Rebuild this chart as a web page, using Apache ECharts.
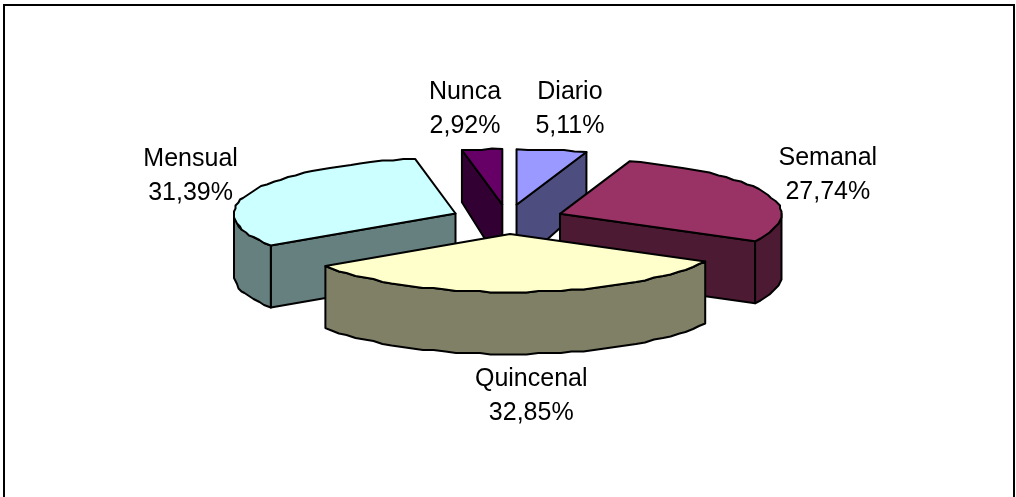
<!DOCTYPE html>
<html>
<head>
<meta charset="utf-8">
<style>html,body{margin:0;padding:0;background:#fff}#chart{width:1016px;height:497px}</style>
<script src="https://cdn.jsdelivr.net/npm/echarts@6/dist/echarts.min.js"></script>
</head>
<body>
<div id="chart"></div>
<script>
// Frecuencia de uso, en porcentaje
const categories = ['Diario', 'Semanal', 'Quincenal', 'Mensual', 'Nunca'];
const shares = [5.11, 27.74, 32.85, 31.39, 2.92];

const topColors = ['#9999FF', '#993366', '#FFFFCC', '#CCFFFF', '#660066'];
const sideColors = ['#4D4D80', '#4D1A33', '#808066', '#668080', '#330033'];
// Desplazamiento de cada etiqueta respecto al punto medio del arco
const labelOffsets = [[18, -41], [62, -18], [11, 104], [-61, -16], [-17, -40]];

// Proyección de la tarta inclinada: la mitad trasera se acorta por la perspectiva
const pie = {
  cx: 507.5, cy: 219.3, rx: 221.5, ryFront: 58, ryBack: 55.5,
  depth: 62, backShrink: 10, explode: 0.255, stepDeg: 3, snap: 1.5
};
const total = shares.reduce((a, b) => a + b, 0);
const rad = d => d * Math.PI / 180;

function project(origin, deg) {
  const c = Math.cos(rad(deg));
  return [origin[0] + pie.rx * Math.sin(rad(deg)), origin[1] - (c > 0 ? pie.ryBack : pie.ryFront) * c];
}
const depthAt = deg => pie.depth - pie.backShrink * Math.max(0, Math.cos(rad(deg)));

// Arco poligonal con vértices cuantizados, como el trazado de la hoja de cálculo
function arcDegrees(a, b) {
  const n = Math.max(1, Math.round((b - a) / pie.stepDeg));
  const out = [];
  for (let i = 0; i <= n; i++) out.push(a + (b - a) * i / n);
  return out;
}
function arcPoints(origin, degs) {
  return degs.map((d, i) => {
    const p = project(origin, d);
    if (i === 0 || i === degs.length - 1) return p;
    return [Math.round(p[0] / pie.snap) * pie.snap, Math.round(p[1] / pie.snap) * pie.snap];
  });
}

function renderSlice(params, api) {
  const i = params.dataIndex;
  const value = api.value(0);
  let before = 0;
  for (let k = 0; k < i; k++) before += shares[k];
  const a = before / total * 360;
  const b = (before + value) / total * 360;
  const mid = (a + b) / 2;
  const apex = [
    pie.cx + pie.explode * pie.rx * Math.sin(rad(mid)),
    pie.cy - pie.explode * pie.ryFront * Math.cos(rad(mid))
  ];
  // Orden de pintado: de atrás hacia delante
  const rank = Math.round(1000 - 900 * Math.cos(rad(mid)));
  const line = { stroke: '#000', lineWidth: 2, lineJoin: 'round' };
  const children = [];
  const wall = (pts, depths) => children.push({
    type: 'polygon', z2: rank,
    shape: { points: pts.concat(pts.map((p, k) => [p[0], p[1] + depths[k]]).reverse()) },
    style: Object.assign({ fill: sideColors[i] }, line)
  });
  // Caras de corte visibles y pared exterior frontal
  if (Math.sin(rad(a)) < -1e-6) wall([apex, project(apex, a)], [pie.depth, depthAt(a)]);
  if (Math.sin(rad(b)) > 1e-6) wall([apex, project(apex, b)], [pie.depth, depthAt(b)]);
  const fa = Math.max(a, 90), fb = Math.min(b, 270);
  if (fb > fa) {
    const degs = arcDegrees(fa, fb);
    wall(arcPoints(apex, degs), degs.map(depthAt));
  }
  // Cara superior
  children.push({
    type: 'polygon', z2: rank + 1,
    shape: { points: [apex].concat(arcPoints(apex, arcDegrees(a, b))) },
    style: Object.assign({ fill: topColors[i] }, line)
  });
  // Etiqueta con categoría y porcentaje
  const anchor = project(apex, mid);
  children.push({
    type: 'text', z2: 5000,
    x: anchor[0] + labelOffsets[i][0],
    y: anchor[1] + labelOffsets[i][1],
    style: {
      text: categories[i] + '\n' + value.toFixed(2).replace('.', ',') + '%',
      fontFamily: '"Liberation Sans", Arial, sans-serif',
      fontSize: 25,
      lineHeight: 34,
      fill: '#000',
      align: 'center',
      verticalAlign: 'middle'
    }
  });
  return { type: 'group', children };
}

const chart = echarts.init(document.getElementById('chart'), null, { renderer: 'canvas' });
chart.setOption({
  animation: false,
  backgroundColor: '#fff',
  graphic: [{
    type: 'rect', silent: true, z: -1,
    shape: { x: 4, y: 5, width: 1010, height: 520 },
    style: { fill: 'none', stroke: '#000', lineWidth: 2 }
  }],
  series: [{
    type: 'custom',
    coordinateSystem: 'none',
    clip: false,
    silent: true,
    renderItem: renderSlice,
    data: shares.map((v, i) => ({ name: categories[i], value: [v] }))
  }]
});
</script>
</body>
</html>
